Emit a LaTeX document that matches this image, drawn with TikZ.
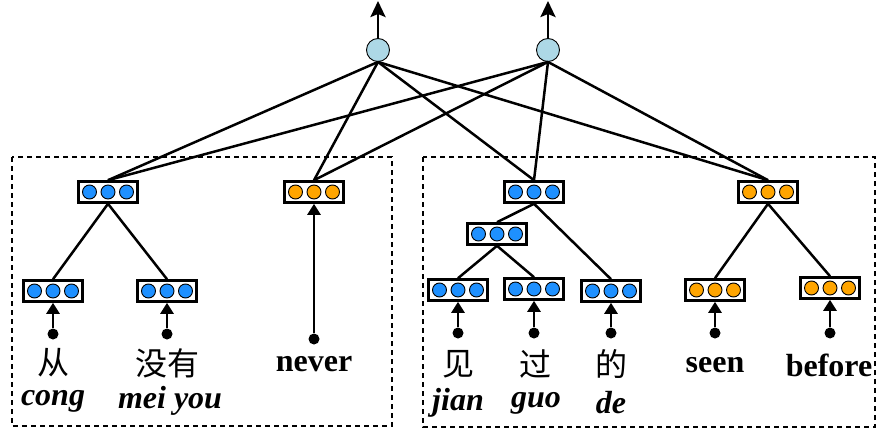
\documentclass[tikz,border=0pt]{standalone}
\usepackage{fontspec}
\setmainfont{Liberation Serif}
\newfontfamily\cjk{Noto Sans CJK SC}
\usetikzlibrary{arrows.meta}

\definecolor{unitblue}{RGB}{30,144,255}
\definecolor{unitorange}{RGB}{255,165,0}
\definecolor{outblue}{RGB}{173,216,230}

% embedding box: name, position, colour of the units
\newcommand{\embbox}[3]{%
  \node[embbox] (#1) at (#2) {};
  \foreach \i in {1,2,3}
    \node[unit,fill=#3] (#1u\i) at ([xshift=(\i-2)*18.5pt]#1.center) {};
}

\begin{document}
\begin{tikzpicture}[x=1pt,y=-1pt,
embbox/.style={draw,rectangle,fill=white,inner sep=0pt,minimum width=59pt,minimum height=21pt,line width=2.6pt},
unit/.style={draw,circle,inner sep=0pt,minimum size=14pt,line width=0.9pt},
outnode/.style={draw,circle,fill=outblue,inner sep=0pt,minimum size=23pt,line width=0.9pt},
wdot/.style={fill,circle,inner sep=0pt,minimum size=11pt},
conn/.style={line width=2.5pt},
inarrow/.style={line width=2.6pt,-{Triangle[length=11pt,width=13pt]}},
outarrow/.style={line width=2.6pt,-{Stealth[length=16pt,width=15pt,inset=3pt]}},
region/.style={line width=2.2pt,dash pattern=on 5pt off 4pt},
word/.style={font=\fontsize{32}{36}\selectfont\bfseries},
cword/.style={font=\fontsize{32}{36}\selectfont\cjk},
pinyin/.style={font=\fontsize{32}{36}\selectfont\bfseries\itshape}]

\useasboundingbox (0,0) rectangle (878,431);

% regions
\draw[region] (12,157) rectangle (392,426);
\draw[region] (423,157) rectangle (875,427);

% output nodes
\node[outnode] (T1) at (378,50) {};
\node[outnode] (T2) at (548,50) {};
\coordinate (T1o) at (378,1);
\coordinate (T2o) at (548,1);
\draw[outarrow] (T1.north) -- (T1o);
\draw[outarrow] (T2.north) -- (T2o);

% phrase boxes
\embbox{pa}{108,192}{unitblue}
\embbox{pn}{314,192}{unitorange}
\embbox{pr}{534,192}{unitblue}
\embbox{po}{768,192}{unitorange}
\embbox{pm}{497,234}{unitblue}

% word boxes
\embbox{bc}{53,291}{unitblue}
\embbox{bm}{167,291}{unitblue}
\embbox{bj}{458,290}{unitblue}
\embbox{bg}{534,289}{unitblue}
\embbox{bd}{611,291}{unitblue}
\embbox{bs}{715,290}{unitorange}
\embbox{bb}{830,288}{unitorange}

\foreach \t in {T1,T2}
  \foreach \b in {pa,pn,pr,po}
    \draw[conn] (\t.south) -- (\b.north);

\draw[conn] (pa.south) -- (bc.north);
\draw[conn] (pa.south) -- (bm.north);
\draw[conn] (pr.south) -- (pm.north);
\draw[conn] (pr.south) -- (bd.north);
\draw[conn] (pm.south) -- (bj.north);
\draw[conn] (pm.south) -- (bg.north);
\draw[conn] (po.south) -- (bs.north);
\draw[conn] (po.south) -- (bb.north);

% input words
\node[wdot] (dc) at (53,334) {};
\node[wdot] (dm) at (167,334) {};
\node[wdot] (dn) at (314,339) {};
\node[wdot] (dj) at (458,333) {};
\node[wdot] (dg) at (534,333) {};
\node[wdot] (dd) at (611,333) {};
\node[wdot] (ds) at (715,333) {};
\node[wdot] (db) at (830,333) {};
\draw[inarrow] (dc) -- (bc.south);
\draw[inarrow] (dm) -- (bm.south);
\draw[inarrow] (dn) -- (pn.south);
\draw[inarrow] (dj) -- (bj.south);
\draw[inarrow] (dg) -- (bg.south);
\draw[inarrow] (dd) -- (bd.south);
\draw[inarrow] (ds) -- (bs.south);
\draw[inarrow] (db) -- (bb.south);

\node[cword] (wc) at (53,363) {从};
\node[cword] (wm) at (167,363) {没有};
\node[word]  (wn) at (314,364) {never};
\node[cword] (wj) at (458,364) {见};
\node[cword] (wg) at (535,364) {过};
\node[cword] (wd) at (611,364) {的};
\node[word]  (ws) at (715,365) {seen};
\node[word]  (wb) at (829,365) {before};

\node[pinyin] (pc) at (53,401) {cong};
\node[pinyin] (pmy) at (170,401) {mei you};
\node[pinyin] (pj) at (458,403) {jian};
\node[pinyin] (pg) at (536,403) {guo};
\node[pinyin] (pd) at (611,403) {de};

\end{tikzpicture}
\end{document}
